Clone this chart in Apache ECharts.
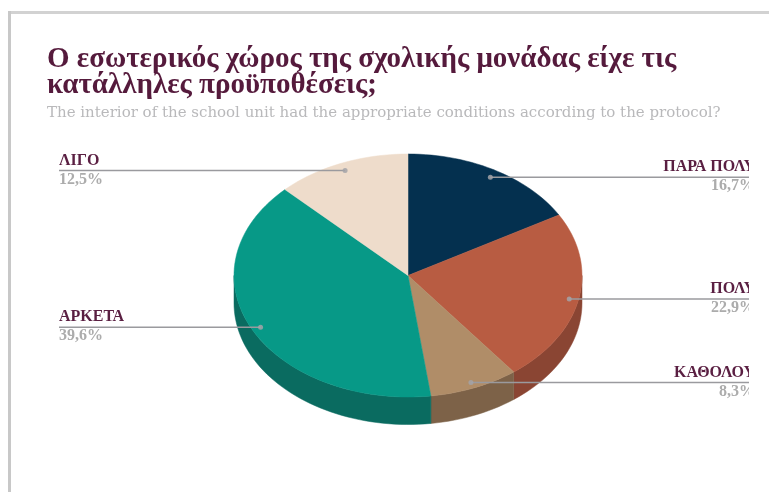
<!DOCTYPE html>
<html><head><meta charset="utf-8">
<style>html,body{margin:0;padding:0;background:#fff}#c{width:769px;height:492px;filter:blur(0.4px)}</style>
<script src="https://cdn.jsdelivr.net/npm/echarts@6/dist/echarts.min.js"></script>
</head><body><div id="c"></div>
<script>
const categories = ['ΠΑΡΑ ΠΟΛΥ', 'ΠΟΛΥ', 'ΚΑΘΟΛΟΥ', 'ΑΡΚΕΤΑ', 'ΛΙΓΟ'];
const values = [16.7, 22.9, 8.3, 39.6, 12.5];
const topColors = ['#04304f', '#b85c42', '#b08d68', '#079987', '#eedccb'];
const sideColors = ['#04304f', '#8a4533', '#7d6248', '#0a6b60', '#eedccb'];

const CX = 408, CY = 275.5, RX = 174, RY = 121.5, DEPTH = 27.5, DOT = 0.945;
const LEFT = 59, RIGHT_CLIP = 749, RIGHT_TEXT = 755;
const total = values.reduce((a, b) => a + b, 0);
const pt = (deg, k, dy) => {
  const a = deg * Math.PI / 180;
  return [CX + Math.sin(a) * RX * k, CY - Math.cos(a) * RY * k + (dy || 0)];
};
const arc = (a, b, dy) => {
  const out = [], n = Math.max(2, Math.ceil((b - a) / 2));
  for (let i = 0; i <= n; i++) out.push(pt(a + (b - a) * i / n, 1, dy));
  return out;
};
const fmt = v => v.toFixed(1).replace('.', ',') + '%';

function renderItem(params, api) {
  const i = params.dataIndex;
  const before = values.slice(0, i).reduce((a, b) => a + b, 0);
  const a0 = before / total * 360, a1 = (before + api.value(0)) / total * 360;
  const kids = [];
  const f0 = Math.max(a0, 90), f1 = Math.min(a1, 270);
  if (f1 > f0) {
    kids.push({ type: 'polygon', z2: 1, shape: { points: arc(f0, f1, 0).concat(arc(f0, f1, DEPTH).reverse()) },
      style: { fill: sideColors[i], stroke: sideColors[i], lineWidth: 0.5 } });
  }
  kids.push({ type: 'polygon', z2: 2, shape: { points: [[CX, CY]].concat(arc(a0, a1, 0)) },
    style: { fill: topColors[i], stroke: topColors[i], lineWidth: 0.5 } });
  const mid = (a0 + a1) / 2, d = pt(mid, DOT, 1), isLeft = mid > 180;
  const edge = isLeft ? LEFT : RIGHT_CLIP, tx = isLeft ? LEFT : RIGHT_TEXT, al = isLeft ? 'left' : 'right';
  const clip = { type: 'rect', shape: { x: 0, y: 0, width: RIGHT_CLIP, height: 492 } };
  kids.push({ type: 'line', z2: 3, shape: { x1: d[0], y1: d[1], x2: edge, y2: d[1] },
    style: { stroke: '#9a9a9e', lineWidth: 1.5 } });
  kids.push({ type: 'circle', z2: 4, shape: { cx: d[0], cy: d[1], r: 2.5 }, style: { fill: '#a3a3a8', opacity: 0.85 } });
  kids.push({ type: 'text', z2: 5, clipPath: clip, style: { x: tx, y: d[1] - 2, text: categories[i], align: al, verticalAlign: 'bottom',
    font: 'bold 16px "Liberation Serif", serif', fill: '#5a1f42' } });
  kids.push({ type: 'text', z2: 5, clipPath: clip, style: { x: tx, y: d[1] + 1, text: fmt(api.value(0)), align: al, verticalAlign: 'top',
    font: 'bold 16px "Liberation Serif", serif', fill: '#acacac' } });
  return { type: 'group', children: kids };
}

const chart = echarts.init(document.getElementById('c'), null, { renderer: 'canvas' });
chart.setOption({
  animation: false,
  backgroundColor: '#ffffff',
  title: {
    left: 42, top: 42, itemGap: 4,
    text: 'Ο εσωτερικός χώρος της σχολικής μονάδας είχε τις\nκατάλληλες προϋποθέσεις;',
    textStyle: { fontFamily: '"Liberation Serif", serif', fontWeight: 'bold', fontSize: 29, lineHeight: 26, color: '#551a3c' },
    subtext: 'The interior of the school unit had the appropriate conditions according to the protocol?',
    subtextStyle: { fontFamily: '"DejaVu Serif", serif', fontSize: 15, color: '#b9b9bb' }
  },
  graphic: [
    { type: 'rect', silent: true, shape: { x: 8, y: 11, width: 761, height: 3 }, style: { fill: '#d2d2d2' } },
    { type: 'rect', silent: true, shape: { x: 8, y: 11, width: 3, height: 481 }, style: { fill: '#c8c8c8' } }
  ],
  series: [{
    type: 'custom', coordinateSystem: 'none', silent: true, clip: false,
    renderItem, data: values.map(v => [v])
  }]
});
</script></body></html>
